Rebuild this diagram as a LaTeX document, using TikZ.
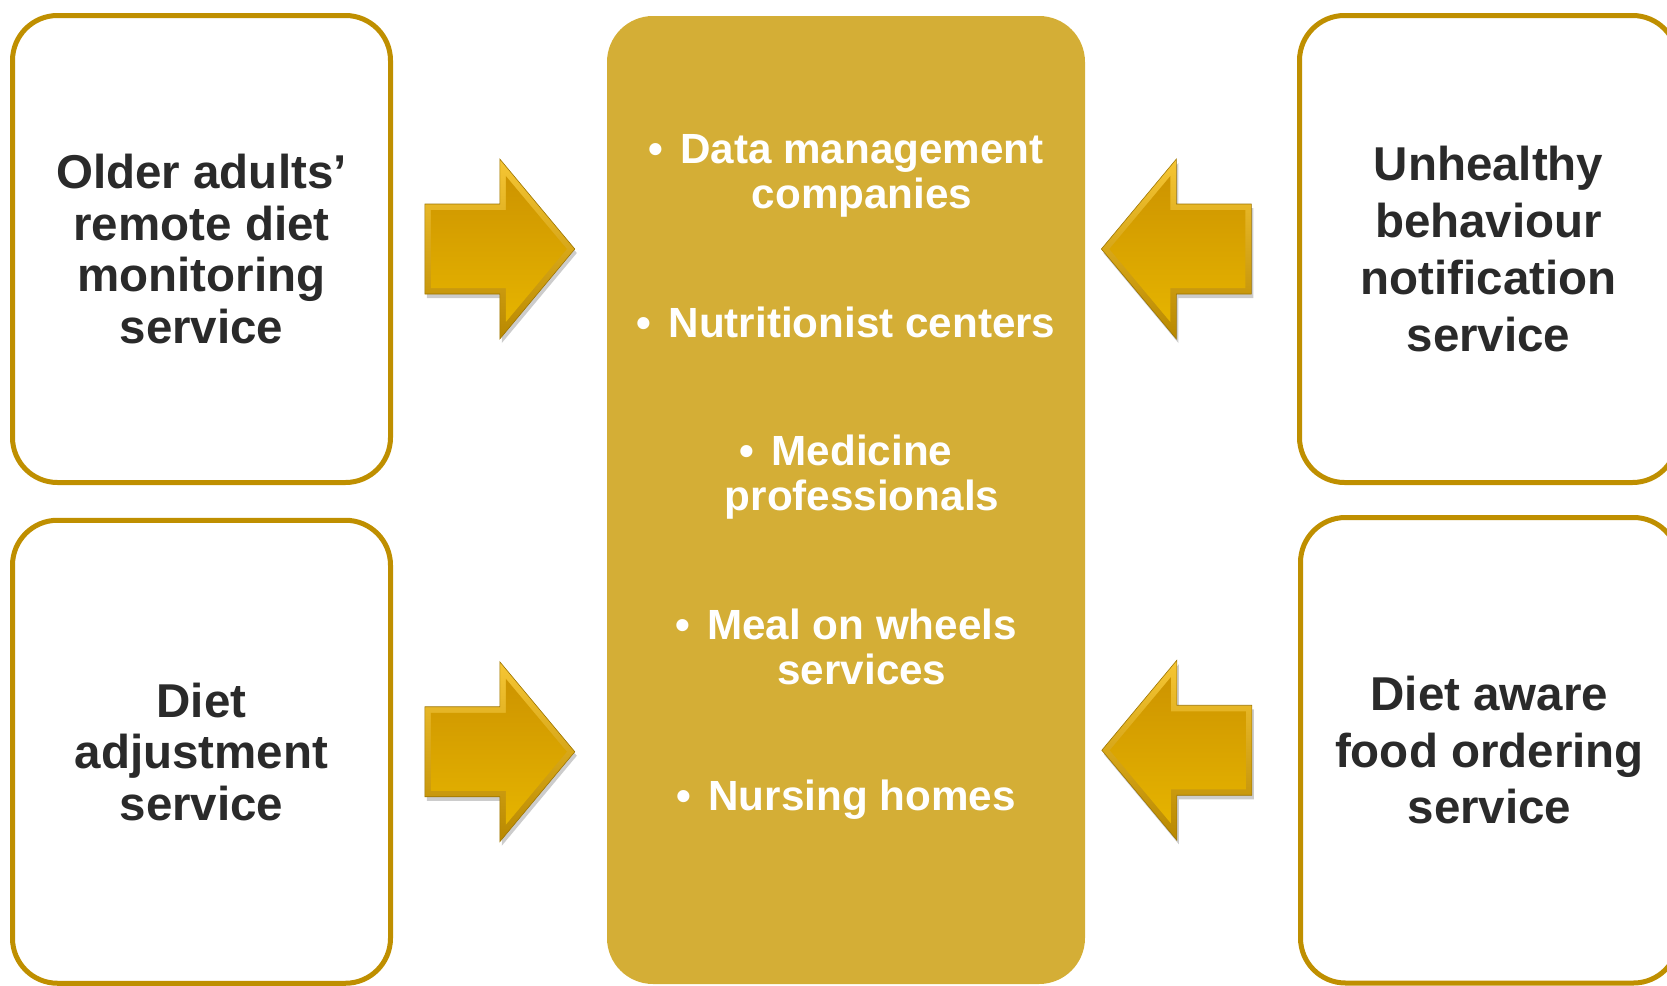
\documentclass[tikz,border=0pt]{standalone}
\usepackage{fontspec}
\setmainfont{Liberation Sans}
\usetikzlibrary{calc}

\definecolor{goldline}{HTML}{BF8F00}
\definecolor{goldhub}{HTML}{D4AE36}
\definecolor{darktext}{HTML}{2A2A2A}
\definecolor{arrowmain}{HTML}{DFA100}
\definecolor{arrowlight}{HTML}{F6C634}
\definecolor{arrowdark}{HTML}{B88800}

% bullet and hanging indent for the items in the hub
\newcommand{\hubbullet}{\makebox[16pt][l]{•}}
\newcommand{\hubindent}{\hspace*{16pt}}

% block arrow: #1 centre, #2 = 1 points right, -1 points left
\newcommand{\goldarrow}[2]{%
  \fill[black, opacity=.2, shift={($(#1)+(2,4)$)}, xscale=#2]
    (-75,-45) -- (0,-45) -- (0,-90) -- (75,0) -- (0,90) -- (0,45) -- (-75,45) -- cycle;
  \shade[shift={(#1)}, xscale=#2, top color=arrowlight, bottom color=arrowdark,
         draw=arrowdark!85!black, line width=.3pt]
    (-75,-45) -- (0,-45) -- (0,-90) -- (75,0) -- (0,90) -- (0,45) -- (-75,45) -- cycle;
  \shade[shift={(#1)}, xscale=#2, top color=arrowmain!92!black, bottom color=arrowmain!80!yellow]
    (-69,-39) -- (6,-39) -- (6,-73) -- (67,0) -- (6,73) -- (6,39) -- (-69,39) -- cycle;
}

\begin{document}
\begin{tikzpicture}[x=0.5pt, y=-0.5pt,
    servicebox/.style={draw=goldline, line width=2.5pt, rounded corners=22.5pt,
      fill=white, minimum width=189pt, align=center, text=darktext,
      font=\bfseries\fontsize{23.75}{25.85}\selectfont},
    notebox/.style={servicebox, font=\bfseries\fontsize{23.75}{28.35}\selectfont},
    hubtext/.style={text=white, align=center, anchor=base, inner sep=0pt,
      font=\bfseries\fontsize{21.1}{22.5}\selectfont}]
    \useasboundingbox (0,0) rectangle (1667,986);

    % Central box (base of each item = its last line)
    \node[fill=goldhub, rounded corners=23pt, minimum width=239pt, minimum height=484pt] (hub) at (846,500) {};
    \node[hubtext] (data) at (846,208) {\hubbullet Data management\\\hubindent companies};
    \node[hubtext] (nutri) at (846,337) {\hubbullet Nutritionist centers};
    \node[hubtext] (medic) at (846,510) {\hubbullet Medicine\\\hubindent professionals};
    \node[hubtext] (meals) at (846,684) {\hubbullet Meal on wheels\\\hubindent services};
    \node[hubtext] (nursing) at (846,810) {\hubbullet Nursing homes};

    % Services on the left
    \node[servicebox, minimum height=233.5pt] (older) at (201.5,249) {Older adults’\\remote diet\\monitoring\\service};
    \node[servicebox, minimum height=231.5pt] (dietadj) at (201.5,751.75) {Diet\\adjustment\\service};

    % Services on the right
    \node[notebox, minimum height=233.5pt] (unhealthy) at (1488.5,249) {Unhealthy\\behaviour\\notification\\service};
    \node[notebox, minimum height=232.75pt] (dietaware) at (1489.5,750.25) {Diet aware\\food ordering\\service};

    % Arrows into the central box
    \coordinate (arrOlder) at ($(older.east)!.5!(older.east -| hub.west)$);
    \coordinate (arrDietadj) at ($(dietadj.east)!.5!(dietadj.east -| hub.west)$);
    \coordinate (arrUnhealthy) at ($(unhealthy.west -| hub.east)!.43!(unhealthy.west)$);
    \coordinate (arrDietaware) at ($(dietaware.west -| hub.east)!.43!(dietaware.west)$);
    \goldarrow{arrOlder}{1}
    \goldarrow{arrDietadj}{1}
    \goldarrow{arrUnhealthy}{-1}
    \goldarrow{arrDietaware}{-1}
\end{tikzpicture}
\end{document}
